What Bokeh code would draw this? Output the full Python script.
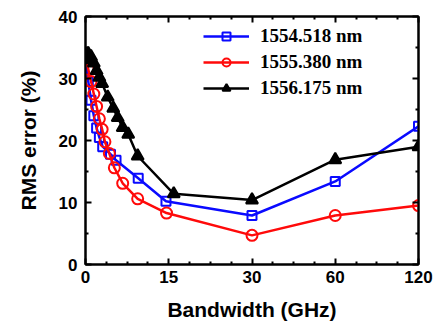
import numpy as np
from bokeh.plotting import figure
from bokeh.models import Range1d, FixedTicker, LinearAxis, Legend, LegendItem, CustomJSTickFormatter
from bokeh.embed import file_html
from bokeh.resources import INLINE

# tick values of the (piecewise, equally spaced) bandwidth axis
x_ticks_ghz = [0, 15, 30, 60, 120]
x_tick_labels = ["0", "15", "30", "60", "120"]
y_ticks = [0, 10, 20, 30, 40]

series_names = ["1554.518 nm", "1555.380 nm", "1556.175 nm"]

blue_ghz = [0, 0.5, 1, 1.5, 2, 2.5, 3.1, 4.5, 5.5, 9.5, 14.5, 30, 60, 120]
blue_rms = [33, 29.5, 26.5, 24, 22, 20.5, 19, 17.8, 16.8, 13.9, 10.2, 7.9, 13.4, 22.3]

red_ghz = [0, 0.5, 1, 1.5, 2, 2.5, 3, 3.5, 4.3, 5.2, 6.7, 9.4, 14.6, 30, 60, 120]
red_rms = [33, 31.5, 29.5, 27.5, 25.5, 23.5, 21.8, 19.8, 17.9, 15.6, 13.1, 10.6, 8.3, 4.7, 7.9, 9.5]

black_ghz = [0, 0.5, 1, 1.5, 2, 2.5, 3, 4, 5, 5.8, 6.7, 7.7, 9.4, 15.9, 30, 60, 120]
black_rms = [33, 34, 33.5, 32.5, 31.3, 30.2, 29.2, 27, 25.2, 23.7, 22.1, 21, 17.5, 11.4, 10.4, 16.9, 19]

def to_axis(g):
    return np.interp(g, x_ticks_ghz, np.arange(len(x_ticks_ghz)))

p = figure(width=444, height=325, output_backend="svg", toolbar_location=None,
           x_range=Range1d(0, 4), y_range=Range1d(0, 40),
           x_axis_location=None, y_axis_location=None,
           min_border_left=85, min_border_right=26, min_border_top=16, min_border_bottom=61)
p.xgrid.visible = False
p.ygrid.visible = False
p.outline_line_color = "black"
p.outline_line_width = 2
p.background_fill_color = "white"
p.border_fill_color = "white"

minor_x = [i * 0.25 for i in range(17) if i % 4 != 0]
xt = FixedTicker(ticks=list(range(5)), minor_ticks=minor_x)
yt = FixedTicker(ticks=y_ticks, minor_ticks=[5, 15, 25, 35])

def style(ax, labels=True):
    ax.axis_line_width = 2
    ax.axis_line_color = "black"
    ax.major_tick_in = 6
    ax.major_tick_out = 0
    ax.minor_tick_in = 3
    ax.minor_tick_out = 0
    ax.major_tick_line_width = 2
    ax.minor_tick_line_width = 2
    ax.major_label_text_font = "Liberation Sans"
    ax.major_label_text_font_style = "bold"
    ax.major_label_text_font_size = "17px"
    ax.major_label_text_color = "black"
    ax.axis_label_text_font = "Liberation Sans"
    ax.axis_label_text_font_style = "bold"
    ax.axis_label_text_font_size = "21px"
    ax.axis_label_text_color = "black"
    if not labels:
        ax.major_label_text_font_size = "0px"
        ax.major_label_standoff = 0

xb = LinearAxis(ticker=xt, axis_label="Bandwidth (GHz)",
                major_label_overrides={i: s for i, s in enumerate(x_tick_labels)})
style(xb)
xb.major_label_standoff = 6
xb.axis_label_standoff = 12
p.add_layout(xb, "below")

yl = LinearAxis(ticker=yt, axis_label="RMS error (%)")
style(yl)
yl.major_label_standoff = 8
yl.axis_label_standoff = 16
p.add_layout(yl, "left")

xtop = LinearAxis(ticker=xt, formatter=CustomJSTickFormatter(code="return ''"))
style(xtop, labels=False)
p.add_layout(xtop, "above")
yr = LinearAxis(ticker=yt, formatter=CustomJSTickFormatter(code="return ''"))
style(yr, labels=False)
p.add_layout(yr, "right")

items = []
specs = [
    (blue_ghz, blue_rms, "#0a0aff", "square", 9, None),
    (red_ghz, red_rms, "#ff0a0a", "circle", 11, None),
    (black_ghz, black_rms, "black", "triangle", 12, "black"),
]
for name, (gx, gy, col, mk, sz, fill) in zip(series_names, specs):
    xs = to_axis(gx)
    l = p.line(xs, gy, line_color=col, line_width=2.5)
    s = p.scatter(xs, gy, marker=mk, size=sz, line_color=col, line_width=2,
                  fill_color=fill if fill else "white", fill_alpha=1 if fill else 0)
    items.append(LegendItem(label=name, renderers=[l, s]))

leg = Legend(items=items, location=(118, 165), border_line_color=None,
             background_fill_alpha=0, padding=0, margin=0, spacing=4,
             glyph_width=46, glyph_height=20, label_height=20, label_standoff=11,
             label_text_font="Liberation Serif", label_text_font_style="bold",
             label_text_font_size="19px", label_text_color="black")
p.add_layout(leg, "center")

open("out.html", "w").write(file_html(p, INLINE))
